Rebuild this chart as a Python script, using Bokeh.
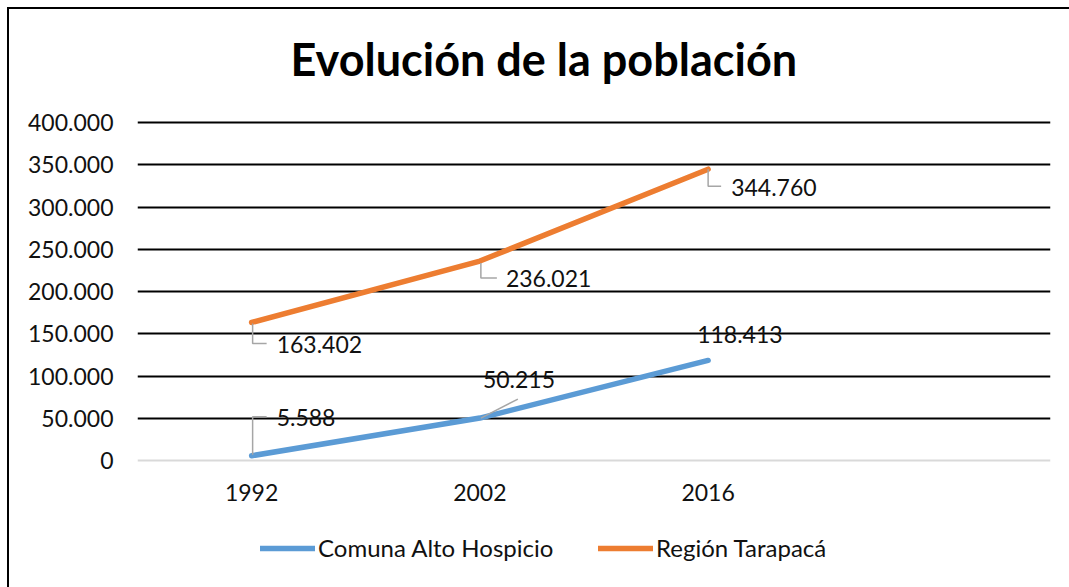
from bokeh.plotting import figure
from bokeh.models import Range1d, FixedTicker, Legend, LegendItem, ColumnDataSource
from bokeh.core.properties import value
from bokeh.embed import file_html
from bokeh.resources import INLINE

# ---- data ----
years = ["1992", "2002", "2016"]
alto_hospicio = [5588, 50215, 118413]
region_tarapaca = [163402, 236021, 344760]
series_names = ["Comuna Alto Hospicio", "Región Tarapacá"]
y_ticks = [0, 50000, 100000, 150000, 200000, 250000, 300000, 350000, 400000]
y_tick_labels = ["0", "50.000", "100.000", "150.000", "200.000", "250.000", "300.000", "350.000", "400.000"]
title_text = "Evolución de la población"

# ---- layout ----
W, H = 1069, 587
ML, MR, MT, MB = 137, 19, 111, 0
frame_w = W - ML - MR
frame_h = H - MT - MB
n_slots = len(years) + 1
y_max = y_ticks[-1]
plot_px = 338                 # pixel height of the 0..400.000 band
below_px = 127                # space below the zero line (axis labels + legend)
uy = plot_px / y_max
ux = frame_w / n_slots
y_start = -below_px / uy
y_end = y_start + frame_h / uy

FONT = "Lato"
FS = "23px"
BLUE = "#5B9BD5"
ORANGE = "#ED7D31"
TXT = "#111111"

p = figure(width=W, height=H, output_backend="svg", toolbar_location=None,
           x_range=Range1d(0, n_slots), y_range=Range1d(y_start, y_end),
           min_border_left=ML, min_border_right=MR, min_border_top=MT, min_border_bottom=MB)
# chart-area border (left and top edges visible), painted behind a transparent canvas
p.styles = {"background": "linear-gradient(#000, #000) 7px 7px / 2px 100% no-repeat, "
                          "linear-gradient(#000, #000) 7px 7px / 100% 2px no-repeat, #fff",
            "overflow": "hidden"}
p.outline_line_color = None
p.background_fill_color = "white"
p.border_fill_alpha = 0

xs = [i + 0.5 for i in range(len(years))]

# x axis drawn at the zero line
p.xaxis.fixed_location = 0
p.xaxis.ticker = FixedTicker(ticks=xs)
p.xaxis.major_label_overrides = {x: y for x, y in zip(xs, years)}
p.xaxis.axis_line_color = "#d9d9d9"
p.xaxis.axis_line_width = 2
p.xaxis.major_tick_line_color = None
p.xaxis.minor_tick_line_color = None
p.xaxis.major_label_standoff = 17
p.xaxis.major_label_text_font = FONT
p.xaxis.major_label_text_font_size = FS
p.xaxis.major_label_text_color = TXT

p.yaxis.ticker = FixedTicker(ticks=y_ticks)
p.yaxis.major_label_overrides = {t: l for t, l in zip(y_ticks, y_tick_labels)}
p.yaxis.axis_line_color = None
p.yaxis.major_tick_line_color = None
p.yaxis.minor_tick_line_color = None
p.yaxis.major_label_standoff = 18
p.yaxis.major_label_text_font = FONT
p.yaxis.major_label_text_font_size = FS
p.yaxis.major_label_text_color = TXT

p.xgrid.grid_line_color = None
p.ygrid.ticker = FixedTicker(ticks=y_ticks[1:])
p.ygrid.grid_line_color = "#000000"
p.ygrid.grid_line_width = 2

# title
p.title.text = title_text
p.title.text_font = FONT
p.title.text_font_style = "bold"
p.title.text_font_size = "45px"
p.title.text_color = "#000000"
p.title.align = "left"
p.title.offset = 153
p.title.standoff = 52
p.title.border_line_color = None
p.title.background_fill_color = None

# lines
r1 = p.line(xs, alto_hospicio, line_color=BLUE, line_width=5.5, line_cap="round", line_join="round")
r2 = p.line(xs, region_tarapaca, line_color=ORANGE, line_width=5.5, line_cap="round", line_join="round")

# data labels: pixel offsets (dx right, dy down) and leader lines
label_offsets_b = [(25, -38), (3, -39), (-11, -26)]
label_offsets_o = [(25, 22), (26, 17), (23, 18)]
leaders_b = [[(1, -1), (1, -39), (15, -39)], [(1, 0), (38, -19)], None]
leaders_o = [[(1, 1), (1, 21), (15, 21)], [(1, 2), (1, 17), (17, 17)], [(0, 0), (0, 17), (13, 17)]]

def fmt(v):
    return f"{v:,}".replace(",", ".")

lx, ly = [], []
for vals, leaders in ((alto_hospicio, leaders_b), (region_tarapaca, leaders_o)):
    for x0, y0, ld in zip(xs, vals, leaders):
        if ld is None:
            continue
        lx.append([x0 + dx / ux for dx, dy in ld])
        ly.append([y0 - dy / uy for dx, dy in ld])
p.multi_line(lx, ly, line_color="#a6a6a6", line_width=1.5)

for vals, offs in ((alto_hospicio, label_offsets_b), (region_tarapaca, label_offsets_o)):
    src = ColumnDataSource(dict(x=xs, y=vals, t=[fmt(v) for v in vals],
                                dx=[o[0] for o in offs], dy=[o[1] for o in offs]))
    p.text(x="x", y="y", text="t", x_offset="dx", y_offset="dy", source=src,
           text_font=value(FONT), text_font_size=FS, text_color=TXT,
           text_align="left", text_baseline="middle")

legend = Legend(items=[LegendItem(label=series_names[0], renderers=[r1]),
                       LegendItem(label=series_names[1], renderers=[r2])],
                orientation="horizontal", location=(123, 25),
                glyph_width=55, glyph_height=24, label_height=24, label_width=270,
                label_standoff=3, spacing=10, padding=0, margin=0, border_line_color=None,
                background_fill_alpha=0, label_text_font=FONT,
                label_text_font_size="24px", label_text_color=TXT)
p.add_layout(legend, "center")

open("out.html", "w").write(file_html(p, INLINE))
